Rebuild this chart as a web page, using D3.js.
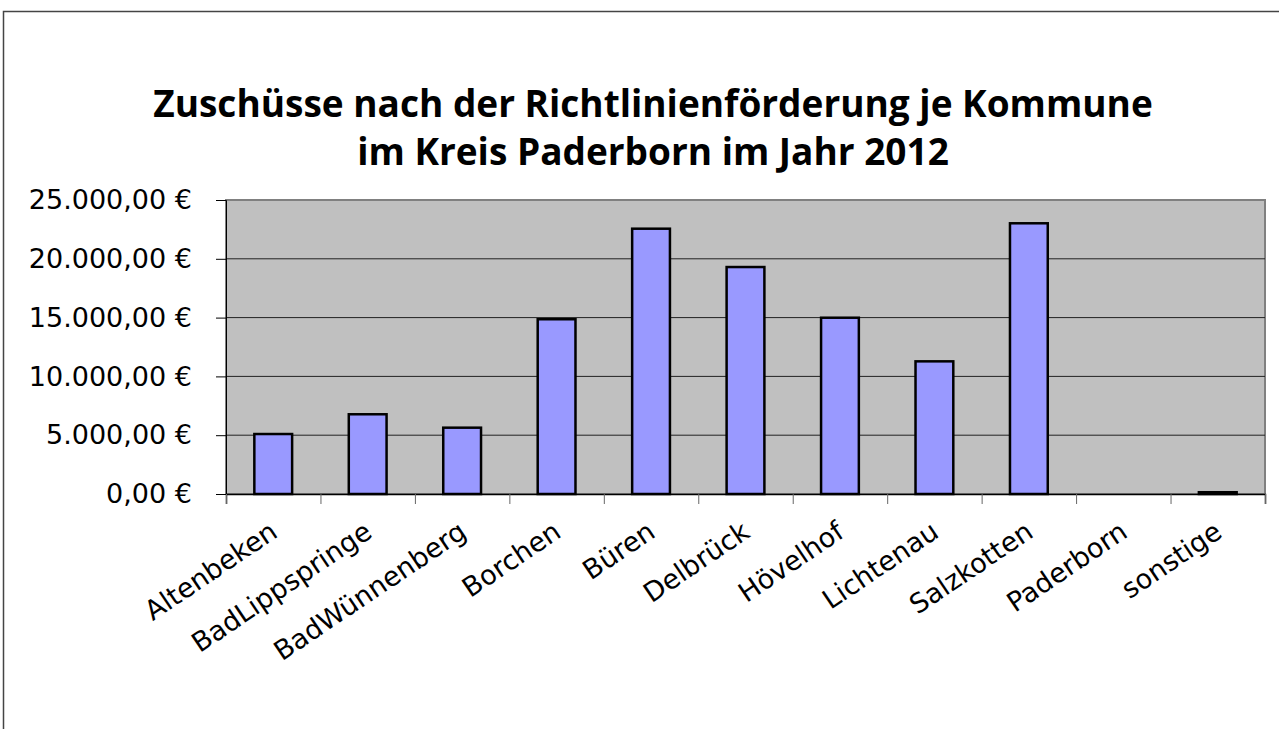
<!DOCTYPE html>
<html>
<head>
<meta charset="utf-8">
<script src="https://cdn.jsdelivr.net/npm/d3@7"></script>
<style>
  body { margin: 0; background: #fff; overflow: hidden; }
  svg { display: block; }
</style>
</head>
<body>
<svg id="chart"></svg>
<script>
// data
const kommunen = ["Altenbeken", "BadLippspringe", "BadWünnenberg", "Borchen", "Büren",
    "Delbrück", "Hövelhof", "Lichtenau", "Salzkotten", "Paderborn", "sonstige"];
const zuschuesse = [5100, 6780, 5640, 14860, 22560, 19300, 14990, 11280, 23020, 0, 150];
const yTicks = [0, 5000, 10000, 15000, 20000, 25000];
const titleLines = ["Zuschüsse nach der Richtlinienförderung je Kommune",
    "im Kreis Paderborn im Jahr 2012"];

const width = 1279;
const height = 729;
const plot = { left: 226, right: 1265, top: 200, bottom: 494 };
const labelFont = "'DejaVu Sans', sans-serif";

const de = d3.formatLocale({
    decimal: ",", thousands: ".", grouping: [3], currency: ["", " €"]
});
const fmt = de.format("$,.2f");

const svg = d3.select('#chart')
    .attr('width', width)
    .attr('height', height)
    .style("font-family", labelFont);

// outer chart frame: only top and left edges are inside the picture
svg.append("path")
    .attr("d", `M3.5,${height}V11.5H${width}`)
    .attr("fill", "none")
    .attr("stroke", "#444")
    .attr("stroke-width", 1.5);

// title
svg.append("g")
    .attr("text-anchor", "middle")
    .attr("font-family", "'Open Sans', sans-serif")
    .attr("font-weight", "bold")
    .attr("font-size", 37)
    .selectAll("text")
    .data(titleLines)
    .join("text")
    .attr("x", 653)
    .attr("y", (d, i) => 117 + i * 48)
    .text(d => d);

const x = d3.scaleBand()
    .domain(kommunen)
    .range([plot.left, plot.right])
    .paddingInner(0.6)
    .paddingOuter(0.3);

const xEdge = d3.scaleLinear()
    .domain([0, kommunen.length])
    .range([plot.left, plot.right]);

const y = d3.scaleLinear()
    .domain([0, 25000])
    .range([plot.bottom, plot.top]);

// plot area
svg.append("rect")
    .attr("x", plot.left).attr("y", plot.top)
    .attr("width", plot.right - plot.left)
    .attr("height", plot.bottom - plot.top)
    .attr("fill", "#c0c0c0")
    .attr("stroke", "#808080")
    .attr("stroke-width", 2);

// gridlines
svg.append("g")
    .selectAll("line")
    .data(yTicks.filter(d => d > 0 && d < 25000))
    .join("line")
    .attr("x1", plot.left).attr("x2", plot.right)
    .attr("y1", d => y(d)).attr("y2", d => y(d))
    .attr("stroke", "#222")
    .attr("stroke-width", 1);

// y axis
const yAxis = svg.append("g")
    .attr("transform", `translate(${plot.left},0)`)
    .call(d3.axisLeft(y).tickValues(yTicks).tickFormat(fmt).tickSize(10).tickPadding(24));
yAxis.select(".domain").attr("stroke", "#000");
yAxis.selectAll(".tick line").attr("stroke", "#000");
yAxis.selectAll("text")
    .attr("font-family", labelFont)
    .attr("font-size", 27)
    .attr("fill", "#000");

// bars
svg.append("g")
    .attr("fill", "#9999ff")
    .attr("stroke", "#000")
    .attr("stroke-width", 2.5)
    .selectAll("rect")
    .data(kommunen.map((k, i) => ({ k, v: zuschuesse[i] })).filter(d => d.v > 0))
    .join("rect")
    .attr("x", d => x(d.k))
    .attr("width", x.bandwidth())
    .attr("y", d => y(d.v))
    .attr("height", d => y(0) - y(d.v));

// x axis: ticks between categories
const xAxis = svg.append("g")
    .attr("transform", `translate(0,${plot.bottom})`)
    .call(d3.axisBottom(xEdge).tickValues(d3.range(kommunen.length + 1)).tickFormat("").tickSize(10));
xAxis.select(".domain").attr("stroke", "#000").attr("stroke-width", 1.5);
xAxis.selectAll(".tick line").attr("stroke", "#666");

// rotated category labels
svg.append("g")
    .attr("font-size", 27)
    .attr("text-anchor", "end")
    .selectAll("text")
    .data(kommunen)
    .join("text")
    .attr("transform", d => `translate(${x(d) + x.bandwidth() / 2 + 6},${plot.bottom + 42}) rotate(-34)`)
    .text(d => d);
</script>
</body>
</html>
